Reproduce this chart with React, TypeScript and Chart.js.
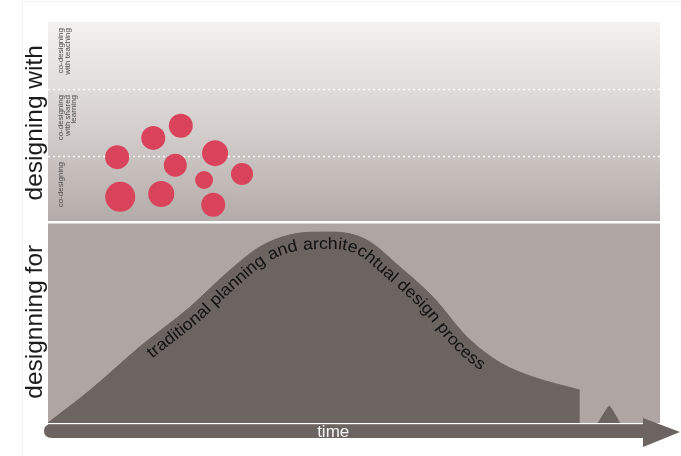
import React, { useEffect, useRef } from "react";
import { Chart, registerables } from "chart.js";

Chart.register(...registerables);

const W = 681;
const H = 456;

// time axis 0..100 (left → right), level axis 0..100 (bottom → top)
const processTime = [0, 6.9, 15.0, 23.2, 29.2, 34.6, 39.5, 44.4, 46.6, 52.1, 57.5, 62.9, 68.5, 73.9, 79.2, 86.9];
const processLevel = [0, 8.2, 19.0, 28.9, 37.4, 43.9, 46.9, 47.6, 47.6, 45.6, 38.9, 31.4, 21.4, 15.0, 11.5, 8.2];
const bumpTime = [89.9, 91.1, 91.7, 92.3, 93.4];
const bumpLevel = [0, 3.0, 4.2, 3.0, 0];
const circleTime = [11.3, 17.2, 21.7, 20.8, 27.3, 25.5, 31.7, 11.8, 18.5, 27.0];
const circleLevel = [66.3, 71.1, 74.1, 64.3, 67.3, 60.6, 62.1, 56.4, 57.1, 54.4];
const circleRadius = [12, 12, 12, 11.5, 13, 9, 11, 15, 13, 12];
const bandEdges = [50, 66.6, 83.3, 100];
const bandLabels = [
  ["co-designing"],
  ["co-designing", "with shared", "learning"],
  ["co-designing", "with teaching"],
];
const axisLabels = ["designing with", "designning for"];
const timeLabel = "time";
const processLabel = "traditional planning and architechtual design process";

const FONT = '"Liberation Sans", Arial, sans-serif';
const DARK = "#6c6461";

const backgroundPlugin = {
  id: "bg",
  beforeDatasetsDraw(chart: any) {
    const { ctx, chartArea: a, scales } = chart;
    const y = scales.y;
    const ySep = y.getPixelForValue(bandEdges[0]);
    ctx.save();
    // faint outer frame
    ctx.fillStyle = "#f1f1f1";
    ctx.fillRect(22, 1, W - 22, 1);
    ctx.fillRect(22, 1, 1, H - 1);
    const g = ctx.createLinearGradient(0, a.top, 0, ySep);
    g.addColorStop(0, "#f3f2f1");
    g.addColorStop(0.5, "#d6d1cf");
    g.addColorStop(1, "#b3aba8");
    ctx.fillStyle = g;
    ctx.fillRect(a.left, a.top, a.right - a.left, ySep - a.top);
    ctx.fillStyle = "#afa6a3";
    ctx.fillRect(a.left, ySep, a.right - a.left, a.bottom - ySep);
    ctx.fillStyle = "#ffffff";
    ctx.fillRect(a.left, ySep - 1.5, a.right - a.left, 2.5);
    ctx.strokeStyle = "#ffffff";
    ctx.lineWidth = 1.5;
    ctx.setLineDash([2, 3]);
    for (let i = 1; i < bandEdges.length - 1; i++) {
      const py = Math.round(y.getPixelForValue(bandEdges[i])) + 0.5;
      ctx.beginPath();
      ctx.moveTo(a.left, py);
      ctx.lineTo(a.right, py);
      ctx.stroke();
    }
    ctx.setLineDash([]);
    // small band labels
    ctx.fillStyle = "#4a4a4a";
    ctx.font = `8px ${FONT}`;
    ctx.textAlign = "right";
    ctx.textBaseline = "middle";
    const colX = [61, 67.5, 74];
    bandLabels.forEach((lines, bi) => {
      const topPx = y.getPixelForValue(bandEdges[bi + 1]) + 6;
      lines.forEach((txt, li) => {
        ctx.save();
        ctx.translate(colX[li], topPx);
        ctx.rotate(-Math.PI / 2);
        ctx.fillText(txt, 0, 0);
        ctx.restore();
      });
    });
    ctx.restore();
  },
};

function drawCurvedText(chart: any) {
  const { ctx } = chart;
  const meta = chart.getDatasetMeta(0);
  const pts = meta.data as any[];
  const samples: { x: number; y: number }[] = [];
  const steps = 30;
  for (let i = 0; i < pts.length - 1; i++) {
    const p0 = pts[i];
    const p1 = pts[i + 1];
    const c1x = p0.cp2x ?? p0.x;
    const c1y = p0.cp2y ?? p0.y;
    const c2x = p1.cp1x ?? p1.x;
    const c2y = p1.cp1y ?? p1.y;
    for (let k = 0; k < steps; k++) {
      const t = k / steps;
      const u = 1 - t;
      samples.push({
        x: u * u * u * p0.x + 3 * u * u * t * c1x + 3 * u * t * t * c2x + t * t * t * p1.x,
        y: u * u * u * p0.y + 3 * u * u * t * c1y + 3 * u * t * t * c2y + t * t * t * p1.y,
      });
    }
  }
  const last = pts[pts.length - 1];
  samples.push({ x: last.x, y: last.y });
  const d = 17;
  const off: { x: number; y: number }[] = [];
  for (let i = 0; i < samples.length; i++) {
    const a = samples[Math.max(0, i - 1)];
    const b = samples[Math.min(samples.length - 1, i + 1)];
    let tx = b.x - a.x;
    let ty = b.y - a.y;
    const len = Math.hypot(tx, ty) || 1;
    tx /= len;
    ty /= len;
    off.push({ x: samples[i].x - ty * d, y: samples[i].y + tx * d });
  }
  const cum: number[] = [0];
  for (let i = 1; i < off.length; i++) {
    cum.push(cum[i - 1] + Math.hypot(off[i].x - off[i - 1].x, off[i].y - off[i - 1].y));
  }
  const findS = (xTarget: number) => {
    for (let i = 1; i < off.length; i++) {
      if (off[i].x >= xTarget) return cum[i];
    }
    return cum[cum.length - 1];
  };
  const sStart = findS(151);
  const sEnd = findS(480);
  ctx.save();
  const size = 16.5;
  ctx.font = `${size}px ${FONT}`;
  const totalW = ctx.measureText(processLabel).width;
  const scaleX = (sEnd - sStart) / totalW;
  ctx.fillStyle = "#111111";
  ctx.textBaseline = "alphabetic";
  ctx.textAlign = "left";
  const posAt = (s: number) => {
    let i = 1;
    while (i < cum.length - 1 && cum[i] < s) i++;
    const seg = cum[i] - cum[i - 1] || 1;
    const f = (s - cum[i - 1]) / seg;
    const x = off[i - 1].x + (off[i].x - off[i - 1].x) * f;
    const yy = off[i - 1].y + (off[i].y - off[i - 1].y) * f;
    const ang = Math.atan2(off[i].y - off[i - 1].y, off[i].x - off[i - 1].x);
    return { x, y: yy, ang };
  };
  let s = sStart;
  for (const ch of processLabel) {
    const w = ctx.measureText(ch).width * scaleX;
    const p = posAt(s + w / 2);
    ctx.save();
    ctx.translate(p.x, p.y);
    ctx.rotate(p.ang);
    ctx.scale(scaleX, 1);
    ctx.fillText(ch, -ctx.measureText(ch).width / 2, 0);
    ctx.restore();
    s += w;
  }
  ctx.restore();
}

const overlayPlugin = {
  id: "overlay",
  afterDatasetsDraw(chart: any) {
    const { ctx, chartArea: a, scales } = chart;
    const x = scales.x;
    const y = scales.y;
    ctx.save();
    // arrow bar
    const barTop = a.bottom + 1;
    const barBot = a.bottom + 15;
    const headX = 643;
    ctx.fillStyle = DARK;
    ctx.beginPath();
    ctx.moveTo(headX, barTop);
    ctx.lineTo(a.left + 4, barTop);
    ctx.quadraticCurveTo(a.left - 4, barTop, a.left - 4, (barTop + barBot) / 2);
    ctx.quadraticCurveTo(a.left - 4, barBot, a.left + 4, barBot);
    ctx.lineTo(headX, barBot);
    ctx.lineTo(headX, a.bottom + 24);
    ctx.lineTo(W - 1, a.bottom + 9);
    ctx.lineTo(headX, a.bottom - 5);
    ctx.closePath();
    ctx.fill();
    ctx.fillStyle = "#8b817e";
    ctx.fillRect(a.left, a.bottom + 1, headX - a.left, 1);
    // time label
    ctx.fillStyle = "#f4f4f4";
    ctx.font = `17px ${FONT}`;
    ctx.textAlign = "center";
    ctx.textBaseline = "middle";
    ctx.fillText(timeLabel, x.getPixelForValue(46.6), a.bottom + 9);
    // left axis labels
    ctx.fillStyle = "#1c1c1c";
    ctx.font = `24.5px ${FONT}`;
    ctx.textAlign = "center";
    ctx.textBaseline = "alphabetic";
    const upperMid = (y.getPixelForValue(100) + y.getPixelForValue(50)) / 2 + 0.5;
    const lowerMid = (y.getPixelForValue(50) + y.getPixelForValue(0)) / 2 - 1;
    [upperMid, lowerMid].forEach((py, i) => {
      ctx.save();
      ctx.translate(42, py);
      ctx.rotate(-Math.PI / 2);
      ctx.fillText(axisLabels[i], 0, 0);
      ctx.restore();
    });
    ctx.restore();
    drawCurvedText(chart);
  },
};

export default function App() {
  const ref = useRef<HTMLCanvasElement | null>(null);
  useEffect(() => {
    if (!ref.current) return;
    const chart = new Chart(ref.current, {
      type: "scatter",
      data: {
        datasets: [
          {
            type: "line",
            data: processTime.map((t, i) => ({ x: t, y: processLevel[i] })),
            backgroundColor: DARK,
            borderColor: DARK,
            borderWidth: 1,
            pointRadius: 0,
            fill: "origin",
            cubicInterpolationMode: "monotone",
          } as any,
          {
            type: "line",
            data: bumpTime.map((t, i) => ({ x: t, y: bumpLevel[i] })),
            backgroundColor: DARK,
            borderColor: DARK,
            borderWidth: 1,
            pointRadius: 0,
            fill: "origin",
            tension: 0.2,
          } as any,
          {
            type: "bubble",
            data: circleTime.map((t, i) => ({ x: t, y: circleLevel[i], r: circleRadius[i] })),
            backgroundColor: "#d9435b",
            borderWidth: 0,
          } as any,
        ],
      },
      options: {
        animation: false,
        responsive: false,
        devicePixelRatio: 1,
        layout: { padding: { left: 48, right: 21, top: 22, bottom: 33 } },
        scales: {
          x: { type: "linear", min: 0, max: 100, display: false },
          y: { type: "linear", min: 0, max: 100, display: false },
        },
        plugins: { legend: { display: false }, tooltip: { enabled: false } },
        events: [],
      },
      plugins: [backgroundPlugin, overlayPlugin],
    });
    return () => chart.destroy();
  }, []);
  return (
    <div style={{ position: "fixed", left: 0, top: 0, width: W, height: H, background: "#ffffff" }}>
      <canvas ref={ref} width={W} height={H} style={{ display: "block" }} />
    </div>
  );
}
